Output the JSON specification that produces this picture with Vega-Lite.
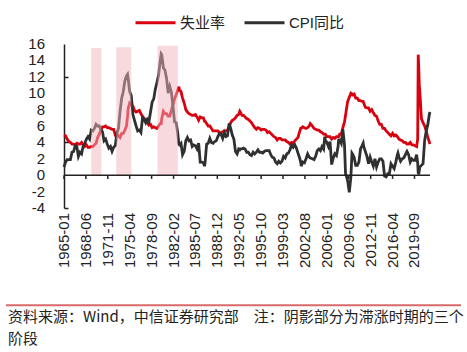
{
  "$schema": "https://vega.github.io/schema/vega-lite/v6.json",
  "background": "white",
  "padding": {"left": 5, "top": 1, "right": 0, "bottom": 0},
  "spacing": 35,
  "config": {
    "view": {"stroke": null},
    "font": "Liberation Sans"
  },
  "datasets": {
    "main": [
      {"d":"1965-01","u":4.9,"c":1.0},{"d":"1965-04","u":4.8,"c":1.6},{"d":"1965-07","u":4.4,"c":1.9},{"d":"1965-10","u":4.1,"c":1.9},
      {"d":"1966-01","u":4.0,"c":1.9},{"d":"1966-04","u":3.8,"c":2.8},{"d":"1966-07","u":3.8,"c":2.9},{"d":"1966-10","u":3.7,"c":3.6},
      {"d":"1967-01","u":3.9,"c":3.5},{"d":"1967-04","u":3.8,"c":2.3},{"d":"1967-07","u":3.8,"c":2.8},{"d":"1967-10","u":4.0,"c":2.6},
      {"d":"1968-01","u":3.7,"c":3.6},{"d":"1968-04","u":3.5,"c":3.9},{"d":"1968-07","u":3.7,"c":4.4},{"d":"1968-10","u":3.4,"c":4.7},
      {"d":"1969-01","u":3.4,"c":4.4},{"d":"1969-04","u":3.5,"c":5.5},{"d":"1969-07","u":3.5,"c":5.4},{"d":"1969-10","u":3.7,"c":5.7},
      {"d":"1970-01","u":3.9,"c":6.2},{"d":"1970-04","u":4.6,"c":6.0},{"d":"1970-07","u":5.0,"c":6.0},{"d":"1970-10","u":5.5,"c":5.6},
      {"d":"1971-01","u":5.9,"c":5.3},{"d":"1971-04","u":5.9,"c":4.2},{"d":"1971-07","u":6.0,"c":4.4},{"d":"1971-10","u":5.8,"c":3.8},
      {"d":"1972-01","u":5.8,"c":3.3},{"d":"1972-04","u":5.7,"c":3.5},{"d":"1972-07","u":5.6,"c":2.9},{"d":"1972-10","u":5.6,"c":3.4},
      {"d":"1973-01","u":4.9,"c":3.6},{"d":"1973-04","u":5.0,"c":5.1},{"d":"1973-07","u":4.8,"c":5.7},{"d":"1973-10","u":4.6,"c":7.8},
      {"d":"1974-01","u":5.1,"c":9.4},{"d":"1974-04","u":5.1,"c":10.2},{"d":"1974-07","u":5.5,"c":11.5},{"d":"1974-10","u":6.0,"c":12.1},{"d":"1974-12","u":7.2,"c":12.3},
      {"d":"1975-01","u":8.1,"c":11.8},{"d":"1975-04","u":8.8,"c":10.2},{"d":"1975-07","u":8.6,"c":9.7},{"d":"1975-10","u":8.4,"c":7.4},
      {"d":"1976-01","u":7.9,"c":6.7},{"d":"1976-04","u":7.7,"c":6.0},{"d":"1976-07","u":7.8,"c":5.4},{"d":"1976-10","u":7.9,"c":5.5},
      {"d":"1977-01","u":7.5,"c":5.2},{"d":"1977-04","u":7.2,"c":7.0},{"d":"1977-07","u":6.9,"c":6.8},{"d":"1977-10","u":6.8,"c":6.4},
      {"d":"1978-01","u":6.4,"c":6.8},{"d":"1978-04","u":6.1,"c":6.5},{"d":"1978-07","u":6.2,"c":7.7},{"d":"1978-10","u":5.8,"c":8.9},
      {"d":"1979-01","u":5.9,"c":9.3},{"d":"1979-04","u":5.8,"c":10.5},{"d":"1979-07","u":5.7,"c":11.3},{"d":"1979-10","u":6.0,"c":12.2},
      {"d":"1980-01","u":6.3,"c":13.9},{"d":"1980-03","u":6.3,"c":14.8},{"d":"1980-04","u":6.9,"c":14.7},{"d":"1980-07","u":7.8,"c":13.1},{"d":"1980-10","u":7.5,"c":12.8},
      {"d":"1981-01","u":7.5,"c":11.8},{"d":"1981-04","u":7.2,"c":10.0},{"d":"1981-07","u":7.2,"c":10.8},{"d":"1981-10","u":7.9,"c":10.1},
      {"d":"1982-01","u":8.6,"c":8.4},{"d":"1982-04","u":9.3,"c":6.5},{"d":"1982-07","u":9.8,"c":6.4},{"d":"1982-10","u":10.4,"c":5.1},{"d":"1982-12","u":10.8,"c":3.8},
      {"d":"1983-01","u":10.4,"c":3.7},{"d":"1983-04","u":10.2,"c":3.9},{"d":"1983-07","u":9.4,"c":2.5},{"d":"1983-10","u":8.8,"c":2.9},
      {"d":"1984-01","u":8.0,"c":4.2},{"d":"1984-04","u":7.7,"c":4.6},{"d":"1984-07","u":7.5,"c":4.2},{"d":"1984-10","u":7.4,"c":4.3},
      {"d":"1985-01","u":7.3,"c":3.5},{"d":"1985-04","u":7.3,"c":3.7},{"d":"1985-07","u":7.4,"c":3.6},{"d":"1985-10","u":7.1,"c":3.2},
      {"d":"1986-01","u":6.7,"c":3.9},{"d":"1986-04","u":7.1,"c":1.6},{"d":"1986-07","u":7.0,"c":1.6},{"d":"1986-10","u":7.0,"c":1.5},{"d":"1986-12","u":6.6,"c":1.1},
      {"d":"1987-01","u":6.6,"c":1.5},{"d":"1987-04","u":6.3,"c":3.8},{"d":"1987-07","u":6.0,"c":3.9},{"d":"1987-10","u":6.0,"c":4.5},
      {"d":"1988-01","u":5.7,"c":4.0},{"d":"1988-04","u":5.4,"c":3.9},{"d":"1988-07","u":5.4,"c":4.1},{"d":"1988-10","u":5.4,"c":4.2},
      {"d":"1989-01","u":5.4,"c":4.7},{"d":"1989-04","u":5.2,"c":5.1},{"d":"1989-07","u":5.2,"c":5.0},{"d":"1989-10","u":5.3,"c":4.5},
      {"d":"1990-01","u":5.4,"c":5.2},{"d":"1990-04","u":5.4,"c":4.7},{"d":"1990-07","u":5.5,"c":4.8},{"d":"1990-10","u":5.9,"c":6.3},
      {"d":"1991-01","u":6.4,"c":5.7},{"d":"1991-04","u":6.7,"c":4.9},{"d":"1991-07","u":6.8,"c":4.4},{"d":"1991-10","u":7.0,"c":2.9},
      {"d":"1992-01","u":7.3,"c":2.6},{"d":"1992-04","u":7.4,"c":3.2},{"d":"1992-06","u":7.8,"c":3.1},{"d":"1992-07","u":7.7,"c":3.2},{"d":"1992-10","u":7.3,"c":3.2},
      {"d":"1993-01","u":7.3,"c":3.3},{"d":"1993-04","u":7.1,"c":3.2},{"d":"1993-07","u":6.9,"c":2.8},{"d":"1993-10","u":6.8,"c":2.8},
      {"d":"1994-01","u":6.6,"c":2.5},{"d":"1994-04","u":6.4,"c":2.4},{"d":"1994-07","u":6.1,"c":2.8},{"d":"1994-10","u":5.8,"c":2.6},
      {"d":"1995-01","u":5.6,"c":2.8},{"d":"1995-04","u":5.8,"c":3.1},{"d":"1995-07","u":5.7,"c":2.8},{"d":"1995-10","u":5.5,"c":2.8},
      {"d":"1996-01","u":5.6,"c":2.7},{"d":"1996-04","u":5.6,"c":2.9},{"d":"1996-07","u":5.5,"c":3.0},{"d":"1996-10","u":5.2,"c":3.0},
      {"d":"1997-01","u":5.3,"c":3.0},{"d":"1997-04","u":5.1,"c":2.5},{"d":"1997-07","u":4.9,"c":2.2},{"d":"1997-10","u":4.7,"c":2.1},
      {"d":"1998-01","u":4.6,"c":1.6},{"d":"1998-04","u":4.3,"c":1.4},{"d":"1998-07","u":4.5,"c":1.7},{"d":"1998-10","u":4.5,"c":1.5},
      {"d":"1999-01","u":4.3,"c":1.7},{"d":"1999-04","u":4.3,"c":2.3},{"d":"1999-07","u":4.3,"c":2.1},{"d":"1999-10","u":4.1,"c":2.6},
      {"d":"2000-01","u":4.0,"c":2.7},{"d":"2000-04","u":3.8,"c":3.1},{"d":"2000-07","u":4.0,"c":3.7},{"d":"2000-10","u":3.9,"c":3.4},
      {"d":"2001-01","u":4.2,"c":3.7},{"d":"2001-04","u":4.4,"c":3.3},{"d":"2001-07","u":4.6,"c":2.7},{"d":"2001-10","u":5.3,"c":2.1},{"d":"2001-12","u":5.7,"c":1.6},
      {"d":"2002-01","u":5.7,"c":1.1},{"d":"2002-04","u":5.9,"c":1.6},{"d":"2002-07","u":5.8,"c":1.5},{"d":"2002-10","u":5.7,"c":2.0},
      {"d":"2003-01","u":5.8,"c":2.6},{"d":"2003-04","u":6.0,"c":2.2},{"d":"2003-06","u":6.3,"c":2.1},{"d":"2003-10","u":6.0,"c":2.0},
      {"d":"2004-01","u":5.7,"c":1.9},{"d":"2004-04","u":5.6,"c":2.3},{"d":"2004-07","u":5.5,"c":3.0},{"d":"2004-10","u":5.5,"c":3.2},
      {"d":"2005-01","u":5.3,"c":3.0},{"d":"2005-04","u":5.2,"c":3.5},{"d":"2005-07","u":5.0,"c":3.2},{"d":"2005-09","u":5.0,"c":4.7},{"d":"2005-10","u":5.0,"c":4.3},
      {"d":"2006-01","u":4.7,"c":4.0},{"d":"2006-04","u":4.7,"c":3.5},{"d":"2006-07","u":4.7,"c":4.1},{"d":"2006-10","u":4.4,"c":1.3},
      {"d":"2007-01","u":4.6,"c":2.1},{"d":"2007-04","u":4.5,"c":2.6},{"d":"2007-07","u":4.7,"c":2.4},{"d":"2007-10","u":4.7,"c":3.5},{"d":"2007-11","u":4.7,"c":4.3},
      {"d":"2008-01","u":5.0,"c":4.3},{"d":"2008-04","u":5.0,"c":3.9},{"d":"2008-07","u":5.8,"c":5.6},{"d":"2008-10","u":6.5,"c":3.7},{"d":"2008-12","u":7.3,"c":0.1},
      {"d":"2009-01","u":7.8,"c":0.0},{"d":"2009-04","u":9.0,"c":-0.7},{"d":"2009-07","u":9.5,"c":-2.1},{"d":"2009-10","u":10.0,"c":-0.2},{"d":"2009-12","u":9.9,"c":2.7},
      {"d":"2010-01","u":9.8,"c":2.6},{"d":"2010-04","u":9.9,"c":2.2},{"d":"2010-07","u":9.4,"c":1.2},{"d":"2010-10","u":9.4,"c":1.2},
      {"d":"2011-01","u":9.1,"c":1.6},{"d":"2011-04","u":9.1,"c":3.2},{"d":"2011-07","u":9.0,"c":3.6},{"d":"2011-09","u":9.0,"c":3.9},{"d":"2011-10","u":8.8,"c":3.5},
      {"d":"2012-01","u":8.3,"c":2.9},{"d":"2012-04","u":8.2,"c":2.3},{"d":"2012-07","u":8.2,"c":1.4},{"d":"2012-10","u":7.8,"c":2.2},
      {"d":"2013-01","u":8.0,"c":1.6},{"d":"2013-04","u":7.6,"c":1.1},{"d":"2013-07","u":7.3,"c":2.0},{"d":"2013-10","u":7.2,"c":1.0},
      {"d":"2014-01","u":6.6,"c":1.6},{"d":"2014-04","u":6.2,"c":2.0},{"d":"2014-07","u":6.2,"c":2.0},{"d":"2014-10","u":5.7,"c":1.7},
      {"d":"2015-01","u":5.7,"c":-0.1},{"d":"2015-04","u":5.4,"c":-0.2},{"d":"2015-07","u":5.2,"c":0.2},{"d":"2015-10","u":5.0,"c":0.2},
      {"d":"2016-01","u":4.8,"c":1.4},{"d":"2016-04","u":5.1,"c":1.1},{"d":"2016-07","u":4.8,"c":0.8},{"d":"2016-10","u":4.9,"c":1.6},
      {"d":"2017-01","u":4.7,"c":2.5},{"d":"2017-02","u":4.6,"c":2.7},{"d":"2017-04","u":4.4,"c":2.2},{"d":"2017-07","u":4.3,"c":1.7},{"d":"2017-10","u":4.2,"c":2.0},
      {"d":"2018-01","u":4.0,"c":2.1},{"d":"2018-04","u":4.0,"c":2.5},{"d":"2018-07","u":3.8,"c":2.9},{"d":"2018-10","u":3.8,"c":2.5},
      {"d":"2019-01","u":4.0,"c":1.6},{"d":"2019-04","u":3.7,"c":2.0},{"d":"2019-07","u":3.7,"c":1.8},{"d":"2019-10","u":3.6,"c":1.8},
      {"d":"2020-01","u":3.5,"c":2.5},{"d":"2020-03","u":4.4,"c":1.5},{"d":"2020-04","u":14.7,"c":0.3},{"d":"2020-05","u":13.2,"c":0.1},{"d":"2020-06","u":11.0,"c":0.6},{"d":"2020-07","u":10.2,"c":1.0},{"d":"2020-10","u":6.9,"c":1.2},
      {"d":"2021-01","u":6.4,"c":1.4},{"d":"2021-04","u":6.0,"c":4.2},{"d":"2021-07","u":5.4,"c":5.4},{"d":"2021-10","u":4.6,"c":6.2},
      {"d":"2022-01","u":4.0,"c":7.5},{"d":"2022-02","u":3.8,"c":7.7}
    ],
    "shade": [
      {"s":"1969-04","e":"1970-11","top":15.5},
      {"s":"1973-03","e":"1975-07","top":15.6},
      {"s":"1979-08","e":"1982-10","top":15.8}
    ],
    "ticks": [
      {"d":"1965-01","lab":"1965-01"},{"d":"1968-06","lab":"1968-06"},{"d":"1971-11","lab":"1971-11"},{"d":"1975-04","lab":"1975-04"},
      {"d":"1978-09","lab":"1978-09"},{"d":"1982-02","lab":"1982-02"},{"d":"1985-07","lab":"1985-07"},{"d":"1988-12","lab":"1988-12"},
      {"d":"1992-05","lab":"1992-05"},{"d":"1995-10","lab":"1995-10"},{"d":"1999-03","lab":"1999-03"},{"d":"2002-08","lab":"2002-08"},
      {"d":"2006-01","lab":"2006-01"},{"d":"2009-06","lab":"2009-06"},{"d":"2012-11","lab":"2012-11"},{"d":"2016-04","lab":"2016-04"},
      {"d":"2019-09","lab":"2019-09"}
    ],
    "ylab": [
      {"v":-4,"t":"-4"},{"v":-2,"t":"-2"},{"v":0,"t":"0"},{"v":2,"t":"2"},{"v":4,"t":"4"},{"v":6,"t":"6"},
      {"v":8,"t":"8"},{"v":10,"t":"10"},{"v":12,"t":"12"},{"v":14,"t":"14"},{"v":16,"t":"16"}
    ],
    "note": [
      {"row": 1, "line": "资料来源：Wind，中信证券研究部　注：阴影部分为滞涨时期的三个"},
      {"row": 2, "line": "阶段"}
    ]
  },
  "vconcat": [
    {
      "width": 424,
      "height": 164,
      "layer": [
        {
          "data": {"name": "main"},
          "transform": [{"fold": ["u", "c"], "as": ["k", "v"]}, {"filter": "datum.k == 'u'"}],
          "mark": {"type": "line", "strokeWidth": 2.8},
          "encoding": {
            "x": {
              "field": "d", "type": "temporal", "axis": null,
              "scale": {"type": "utc", "nice": false, "range": [58, 424], "domain": [{"year": 1965, "month": 1, "utc": true}, {"year": 2022, "month": 2, "utc": true}]}
            },
            "y": {
              "field": "v", "type": "quantitative",
              "scale": {"domain": [-4, 16], "nice": false, "zero": false},
              "axis": {
                "title": null, "grid": false, "labels": false, "values": [-4,-2,0,2,4,6,8,10,12,14,16], "offset": -58,
                "domainColor": "#222", "domainWidth": 1.5, "tickColor": "#222", "tickWidth": 1.5, "tickSize": -4
              }
            },
            "color": {
              "field": "k", "type": "nominal",
              "scale": {"domain": ["u", "c"], "range": ["#d9000f", "#303030"]},
              "legend": {
                "title": null, "orient": "none", "legendX": 128, "legendY": -43, "direction": "horizontal",
                "symbolType": "stroke", "symbolSize": 1600, "symbolStrokeWidth": 3,
                "labelFont": "Liberation Sans, Noto Sans CJK SC",
                "labelFontSize": 15, "labelColor": "#222", "labelOffset": 3, "columnPadding": 12,
                "labelExpr": "datum.value == 'u' ? '失业率' : 'CPI同比'"
              }
            }
          }
        },
        {
          "data": {"name": "main"},
          "transform": [{"fold": ["u", "c"], "as": ["k", "v"]}, {"filter": "datum.k == 'c'"}],
          "mark": {"type": "line", "strokeWidth": 2.8},
          "encoding": {
            "x": {"field": "d", "type": "temporal", "axis": null},
            "y": {"field": "v", "type": "quantitative"},
            "color": {"field": "k", "type": "nominal"}
          }
        },
        {
          "data": {"name": "shade"},
          "mark": {"type": "rect", "fill": "#f0b3bd", "opacity": 0.5},
          "encoding": {
            "x": {"field": "s", "type": "temporal", "axis": null},
            "x2": {"field": "e"},
            "y": {"field": "top", "type": "quantitative"},
            "y2": {"datum": 0}
          }
        },
        {
          "data": {"values": [{}]},
          "mark": {"type": "rule", "color": "#222", "strokeWidth": 1.5},
          "encoding": {
            "x": {"datum": {"year": 1965, "month": 1, "utc": true}, "type": "temporal", "axis": null},
            "x2": {"datum": {"year": 2022, "month": 2, "utc": true}},
            "y": {"datum": 0, "type": "quantitative"}
          }
        },
        {
          "data": {"name": "ticks"},
          "mark": {"type": "rule", "color": "#222", "strokeWidth": 1.5},
          "encoding": {
            "x": {"field": "d", "type": "temporal", "axis": null},
            "y": {"datum": 0, "type": "quantitative"},
            "y2": {"datum": -0.45}
          }
        },
        {
          "data": {"name": "ylab"},
          "mark": {"type": "text", "align": "right", "baseline": "middle", "fontSize": 15, "color": "#222", "dx": -19},
          "encoding": {
            "x": {"datum": {"year": 1965, "month": 1, "utc": true}, "type": "temporal", "axis": null},
            "y": {"field": "v", "type": "quantitative"},
            "text": {"field": "t", "type": "nominal"}
          }
        },
        {
          "data": {"name": "ticks"},
          "mark": {"type": "text", "align": "right", "baseline": "middle", "angle": 270, "fontSize": 15, "color": "#222", "dx": -5},
          "encoding": {
            "x": {"field": "d", "type": "temporal", "axis": null},
            "y": {"datum": -4, "type": "quantitative"},
            "text": {"field": "lab", "type": "nominal"}
          }
        }
      ]
    },
    {
      "width": 455,
      "height": 48,
      "layer": [
        {
          "data": {"values": [{}]},
          "mark": {"type": "rule", "color": "#d96a6a", "strokeWidth": 2},
          "encoding": {
            "x": {"datum": 0, "type": "quantitative", "scale": {"domain": [0, 1]}, "axis": null},
            "x2": {"datum": 1},
            "y": {"datum": 0.46, "type": "quantitative", "scale": {"domain": [0.46, 2.5], "reverse": true}, "axis": null}
          }
        },
        {
          "data": {"name": "note"},
          "mark": {"type": "text", "align": "left", "baseline": "middle", "fontSize": 15, "font": "Noto Sans CJK SC", "color": "#222", "dx": 2},
          "encoding": {
            "x": {"datum": 0, "type": "quantitative"},
            "y": {"field": "row", "type": "quantitative"},
            "text": {"field": "line", "type": "nominal"}
          }
        }
      ]
    }
  ]
}
